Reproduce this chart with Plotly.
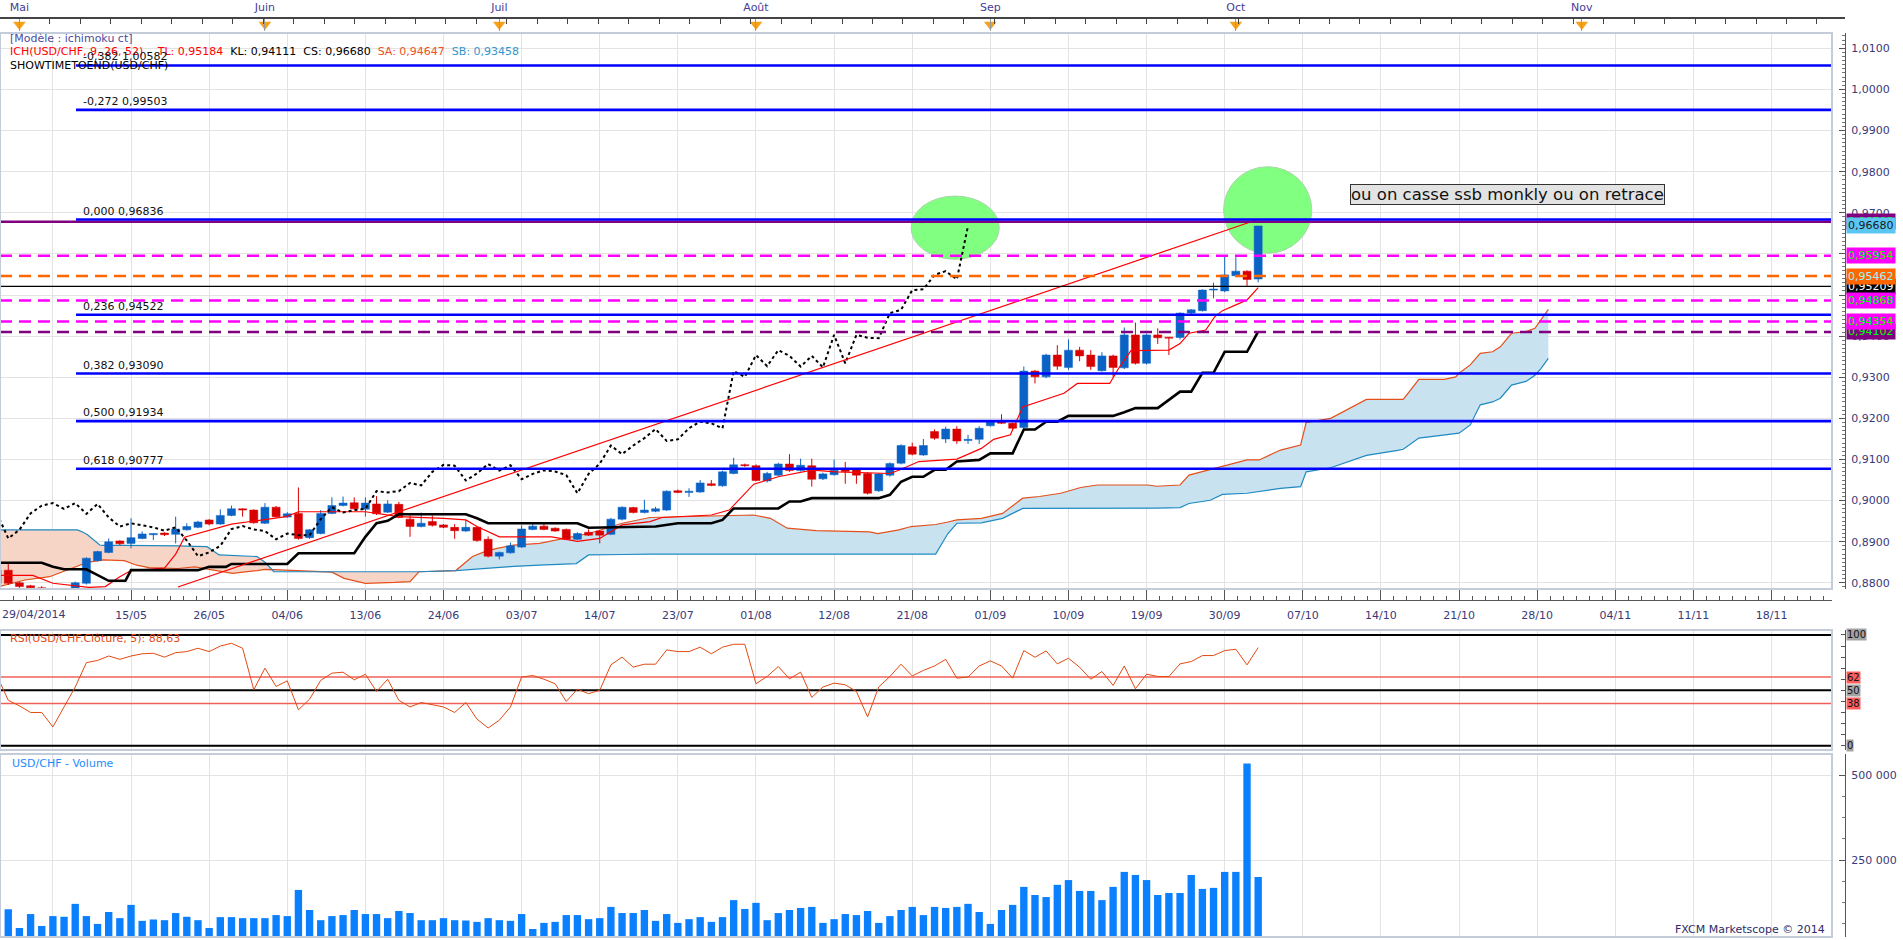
import plotly.graph_objects as go

# ------------------------------------------------------------------ DATA
# bar index: trading-day index, 15/05/2014 = 0 (first bar 29/04/2014 = -12)
bar_idx = list(range(-12, 102))

opens = [0.8799, 0.8831, 0.8800, 0.8793, 0.8788, 0.8770, 0.8762, 0.8772, 0.8799, 0.8854, 0.8874, 0.8902,
         0.8896, 0.8908, 0.8917, 0.8921, 0.8918, 0.8929, 0.8935, 0.8953, 0.8943, 0.8964,
         0.8980, 0.8977, 0.8945, 0.8984, 0.8960, 0.8969, 0.8910, 0.8920, 0.8969, 0.8988,
         0.8995, 0.8979, 0.8992, 0.8972, 0.8991, 0.8955, 0.8937, 0.8949, 0.8941, 0.8935,
         0.8926, 0.8935, 0.8906, 0.8865, 0.8873, 0.8887, 0.8930, 0.8938, 0.8933, 0.8930,
         0.8906, 0.8923, 0.8926, 0.8918, 0.8955, 0.8983, 0.8971, 0.8974, 0.8977, 0.9024,
         0.9020, 0.9021, 0.9041, 0.9036, 0.9066, 0.9087, 0.9085, 0.9048, 0.9062, 0.9089,
         0.9073, 0.9085, 0.9053, 0.9063, 0.9075, 0.9075, 0.9066, 0.9024, 0.9062, 0.9091,
         0.9131, 0.9111, 0.9168, 0.9150, 0.9174, 0.9146, 0.9149, 0.9182, 0.9192, 0.9188,
         0.9178, 0.9315, 0.9301, 0.9354, 0.9324, 0.9366, 0.9354, 0.9316, 0.9352, 0.9323,
         0.9403, 0.9334, 0.9403, 0.9397, 0.9397, 0.9456, 0.9462, 0.9512, 0.9510, 0.9547,
         0.9558, 0.9539]
highs = [0.8835, 0.8846, 0.8803, 0.8795, 0.8792, 0.8775, 0.8778, 0.8803, 0.8862, 0.8878, 0.8908, 0.8904,
         0.8957, 0.8925, 0.8920, 0.8923, 0.8961, 0.8945, 0.8951, 0.8955, 0.8979, 0.8988,
         0.8981, 0.8979, 0.8994, 0.8987, 0.8972, 0.9032, 0.8931, 0.8977, 0.9008, 0.9010,
         0.9008, 0.9008, 0.9011, 0.9001, 0.8997, 0.8964, 0.8971, 0.8964, 0.8943, 0.8943,
         0.8953, 0.8937, 0.8913, 0.8876, 0.8898, 0.8940, 0.8943, 0.8945, 0.8935, 0.8932,
         0.8923, 0.8930, 0.8928, 0.8958, 0.8986, 0.8985, 0.9002, 0.8985, 0.9025, 0.9027,
         0.9030, 0.9050, 0.9050, 0.9073, 0.9104, 0.9090, 0.9088, 0.9070, 0.9092, 0.9113,
         0.9102, 0.9102, 0.9068, 0.9100, 0.9094, 0.9077, 0.9069, 0.9067, 0.9093, 0.9137,
         0.9141, 0.9150, 0.9173, 0.9180, 0.9181, 0.9160, 0.9181, 0.9195, 0.9210, 0.9190,
         0.9326, 0.9318, 0.9357, 0.9378, 0.9392, 0.9374, 0.9366, 0.9361, 0.9355, 0.9421,
         0.9433, 0.9406, 0.9419, 0.9398, 0.9458, 0.9466, 0.9514, 0.9530, 0.9593, 0.9592,
         0.9560, 0.9668]
lows = [0.8795, 0.8795, 0.8788, 0.8785, 0.8765, 0.8755, 0.8758, 0.8768, 0.8796, 0.8852, 0.8872, 0.8892,
        0.8884, 0.8906, 0.8904, 0.8914, 0.8896, 0.8927, 0.8933, 0.8940, 0.8941, 0.8962,
        0.8961, 0.8944, 0.8943, 0.8958, 0.8958, 0.8905, 0.8907, 0.8918, 0.8967, 0.8986,
        0.8978, 0.8961, 0.8965, 0.8970, 0.8957, 0.8912, 0.8935, 0.8937, 0.8933, 0.8907,
        0.8924, 0.8900, 0.8862, 0.8857, 0.8871, 0.8885, 0.8928, 0.8928, 0.8924, 0.8904,
        0.8904, 0.8914, 0.8896, 0.8916, 0.8952, 0.8969, 0.8969, 0.8972, 0.8975, 0.9018,
        0.9009, 0.9019, 0.9035, 0.9034, 0.9064, 0.9082, 0.9047, 0.9044, 0.9060, 0.9070,
        0.9071, 0.9034, 0.9050, 0.9061, 0.9041, 0.9041, 0.9015, 0.9021, 0.9058, 0.9088,
        0.9110, 0.9109, 0.9148, 0.9140, 0.9138, 0.9138, 0.9138, 0.9180, 0.9186, 0.9174,
        0.9175, 0.9285, 0.9298, 0.9318, 0.9318, 0.9339, 0.9318, 0.9314, 0.9301, 0.9320,
        0.9331, 0.9331, 0.9381, 0.9354, 0.9392, 0.9452, 0.9460, 0.9492, 0.9507, 0.9545,
        0.9520, 0.9531]
closes = [0.8831, 0.8799, 0.8791, 0.8788, 0.8770, 0.8762, 0.8772, 0.8800, 0.8860, 0.8876, 0.8900, 0.8895,
          0.8910, 0.8919, 0.8920, 0.8917, 0.8931, 0.8937, 0.8948, 0.8943, 0.8964, 0.8980,
          0.8977, 0.8946, 0.8984, 0.8961, 0.8968, 0.8908, 0.8929, 0.8969, 0.8988, 0.8994,
          0.8980, 0.8994, 0.8968, 0.8992, 0.8959, 0.8937, 0.8945, 0.8940, 0.8935, 0.8927,
          0.8935, 0.8903, 0.8865, 0.8874, 0.8890, 0.8931, 0.8938, 0.8930, 0.8926, 0.8906,
          0.8920, 0.8916, 0.8916, 0.8955, 0.8984, 0.8971, 0.8977, 0.8980, 0.9023, 0.9020,
          0.9023, 0.9043, 0.9037, 0.9070, 0.9087, 0.9085, 0.9049, 0.9066, 0.9089, 0.9073,
          0.9086, 0.9052, 0.9065, 0.9074, 0.9071, 0.9062, 0.9018, 0.9065, 0.9090, 0.9134,
          0.9113, 0.9134, 0.9152, 0.9174, 0.9145, 0.9149, 0.9176, 0.9192, 0.9188, 0.9176,
          0.9315, 0.9301, 0.9354, 0.9327, 0.9366, 0.9352, 0.9326, 0.9352, 0.9324, 0.9403,
          0.9334, 0.9403, 0.9396, 0.9395, 0.9456, 0.9464, 0.9512, 0.9514, 0.9549, 0.9558,
          0.9538, 0.9668]

volumes = [76000, 105000, 50000, 91000, 56000, 85000, 83000, 121000, 85000, 62000,
           97000, 79000, 118000, 71000, 75000, 73000, 94000, 83000, 73000, 50000,
           82000, 82000, 79000, 79000, 79000, 88000, 85000, 162000, 103000, 73000,
           85000, 88000, 103000, 91000, 91000, 79000, 100000, 94000, 73000, 73000,
           79000, 73000, 72000, 68000, 79000, 73000, 71000, 91000, 47000, 65000,
           68000, 88000, 88000, 76000, 79000, 112000, 94000, 94000, 103000, 71000,
           91000, 65000, 76000, 82000, 68000, 82000, 132000, 106000, 124000, 73000,
           94000, 103000, 109000, 112000, 65000, 76000, 91000, 88000, 100000, 65000,
           85000, 103000, 112000, 88000, 112000, 109000, 112000, 121000, 97000, 62000,
           103000, 118000, 171000, 147000, 141000, 177000, 191000, 159000, 159000, 132000,
           171000, 215000, 206000, 191000, 147000, 153000, 153000, 206000, 165000, 168000,
           215000, 215000, 534000, 200000]

rsi_values = [63, 41, 36, 30, 30, 17, 35, 53, 75, 77, 81, 78,
              81, 83, 83.5, 80, 84, 85, 88, 85, 90, 92.5,
              88, 50.5, 70, 53.5, 58.6, 32.4, 42, 59, 65.5, 66.4,
              59.5, 64.5, 49, 60, 41, 35, 39, 37, 35, 30,
              39, 24, 16, 23, 35, 62, 63.4, 60, 56, 40,
              51, 47, 50, 73, 80, 71, 73.6, 73.6, 86.5, 85,
              85, 89, 83, 89, 91.6, 91.6, 56, 62.5, 71.5, 60.4,
              66.4, 43.6, 53, 56.5, 55, 49, 26, 53, 62.5, 73.6,
              63, 68, 72, 78, 61, 62, 72, 76.6, 72, 61,
              85.9, 79.9, 85.6, 73.9, 79, 70.9, 60, 67, 54.4, 72,
              51.4, 64.6, 62.5, 62.5, 73.9, 76, 81.4, 81.4, 85.9, 87.1,
              73, 88.6]

tenkan_x = [-12, -8.8, -7, -3.8, -2.3, -1, 0, 3, 4, 4.8, 9, 13.9, 15, 21, 24, 28, 30, 31, 33, 37.7,
            40, 42, 44, 46.5, 47.6, 52, 53.6, 55.8, 58, 61, 63.2, 68, 68.8, 70.6, 74, 76.2, 77.3, 78.8,
            79.9, 83.6, 84.8, 87.7, 88.5, 89.6, 93, 94, 94.8, 96.3, 97.1, 97.8, 99, 100, 101]
tenkan_y = [0.8818, 0.8818, 0.8799, 0.8789, 0.8791, 0.8815, 0.8830, 0.8836, 0.8870, 0.8911,
            0.8943, 0.8961, 0.8973, 0.8973, 0.8961, 0.8957, 0.8953, 0.8937, 0.8912, 0.8912,
            0.8901, 0.8908, 0.8941, 0.8949, 0.8959, 0.8965, 0.8977, 0.9040, 0.9058, 0.9074,
            0.9070, 0.9066, 0.9074, 0.9095, 0.9101, 0.9127, 0.9149, 0.9160, 0.9228, 0.9261,
            0.9285, 0.9285, 0.9322, 0.9365, 0.9366, 0.9382, 0.9407, 0.9415, 0.9447, 0.9462,
            0.9476, 0.9488, 0.9518]

kijun_x = [-12, -8, -7, -6, -4, -3, -2, -0.5, 0, 6, 7, 8.5, 9, 14, 15, 20, 21, 22, 23, 24,
           30, 31, 32, 40, 41, 47, 48, 49, 52, 53, 54, 58, 59, 60, 61, 67, 68, 69, 70, 71,
           72, 73, 74, 76, 77, 79, 80, 81, 82, 83, 84, 88, 89, 90, 92, 93, 94, 95, 96, 97,
           98, 100, 101]
kijun_y = [0.8849, 0.8849, 0.8839, 0.8833, 0.8833, 0.8819, 0.8805, 0.8805, 0.8831, 0.8831,
           0.8839, 0.8839, 0.8846, 0.8846, 0.8872, 0.8872, 0.8912, 0.8945, 0.8951, 0.8967,
           0.8967, 0.8957, 0.8945, 0.8945, 0.8934, 0.8937, 0.8941, 0.8945, 0.8945, 0.8953,
           0.8981, 0.8981, 0.8998, 0.8998, 0.9006, 0.9006, 0.9014, 0.9046, 0.9058, 0.9058,
           0.9075, 0.9075, 0.9095, 0.9099, 0.9115, 0.9115, 0.9173, 0.9173, 0.9192, 0.9192,
           0.9206, 0.9206, 0.9215, 0.9225, 0.9225, 0.9245, 0.9265, 0.9265, 0.9311, 0.9311,
           0.9362, 0.9362, 0.9411]

cloud_x = [-12, -9.5, -7.3, -6.2, -4.8, -4.3, -3.9, -2.8, -2.5, -0.6,
           0.5, 1.6, 4.2, 5.7, 6.8, 7.9, 9.1, 11.3, 12.0, 12.8,
           13.5, 18, 19.1, 21, 23.6, 25, 25.8, 29.1, 30.6, 31.7,
           32.8, 34.3, 36.6, 39.9, 41, 42, 44, 46.5, 51, 55.8,
           57.3, 58.8, 61.4, 66.2, 66.9, 68.8, 69.9, 71.8, 72.1, 73.2,
           74, 76.2, 78.1, 79.9, 81.4, 83.3, 85.1, 86.6, 91.1, 91.9,
           94, 94.8, 96.7, 97.8, 100, 101.1, 103, 104.8, 105.3, 107.5,
           110.7, 113.5, 114, 115.4, 117.7, 118.7, 119, 120, 120.9, 122,
           122.7, 123.7, 125, 125.8, 126.3, 127]
senkou_a = [0.8790, 0.8807, 0.8815, 0.8827, 0.8842, 0.8846, 0.8850, 0.8856, 0.8856, 0.8854,
            0.8843, 0.8837, 0.8835, 0.8839, 0.8834, 0.8828, 0.8823, 0.8830, 0.8833, 0.8832,
            0.8831, 0.8826, 0.8811, 0.8799, 0.8801, 0.8803, 0.8827, 0.8830, 0.8864, 0.8876,
            0.8884, 0.8892, 0.8896, 0.8913, 0.8920, 0.8928, 0.8945, 0.8959, 0.8962, 0.8965,
            0.8957, 0.8933, 0.8927, 0.8924, 0.8920, 0.8929, 0.8937, 0.8941, 0.8942, 0.8948,
            0.8953, 0.8957, 0.8969, 0.9006, 0.9010, 0.9018, 0.9032, 0.9038, 0.9038, 0.9035,
            0.9038, 0.9062, 0.9075, 0.9084, 0.9099, 0.9099, 0.9123, 0.9135, 0.9190, 0.9200,
            0.9246, 0.9246, 0.9246, 0.9295, 0.9295, 0.9301, 0.9310, 0.9330, 0.9358, 0.9362,
            0.9374, 0.9407, 0.9411, 0.9419, 0.9439, 0.9465]
senkou_b = [0.8929, 0.8929, 0.8929, 0.8929, 0.8929, 0.8923, 0.8917, 0.8892, 0.8891, 0.8891,
            0.8891, 0.8890, 0.8890, 0.8889, 0.8888, 0.8868, 0.8867, 0.8864, 0.8850, 0.8827,
            0.8827, 0.8827, 0.8827, 0.8827, 0.8827, 0.8827, 0.8827, 0.8830, 0.8833, 0.8835,
            0.8837, 0.8840, 0.8843, 0.8847, 0.8868, 0.8868, 0.8869, 0.8870, 0.8870, 0.8870,
            0.8870, 0.8870, 0.8870, 0.8870, 0.8870, 0.8870, 0.8870, 0.8870, 0.8870, 0.8920,
            0.8945, 0.8946, 0.8957, 0.8981, 0.8981, 0.8981, 0.8981, 0.8981, 0.8981, 0.8982,
            0.8983, 0.8993, 0.9001, 0.9015, 0.9018, 0.9022, 0.9030, 0.9034, 0.9070, 0.9080,
            0.9110, 0.9122, 0.9125, 0.9152, 0.9160, 0.9164, 0.9164, 0.9184, 0.9233, 0.9240,
            0.9249, 0.9281, 0.9290, 0.9305, 0.9320, 0.9346]
chikou_shift = 26

date_tick_idx = list(range(0, 148, 7))
date_tick_labels = ["15/05", "26/05", "04/06", "13/06", "24/06", "03/07", "14/07", "23/07",
                    "01/08", "12/08", "21/08", "01/09", "10/09", "19/09", "30/09", "07/10",
                    "14/10", "21/10", "28/10", "04/11", "11/11", "18/11"]
first_date_label = "29/04/2014"
grid_idx = list(range(-7, 148, 7))
month_idx = [-10, 12, 33, 56, 77, 99, 130]
month_labels = ["Mai", "Juin", "Juil", "Août", "Sep", "Oct", "Nov"]

fib_ratios = [-0.382, -0.272, 0.000, 0.236, 0.382, 0.500, 0.618]
fib_values = [1.00582, 0.99503, 0.96836, 0.94522, 0.93090, 0.91934, 0.90777]
fib_anchor_idx = -4.93

level_values = [0.96783, 0.95954, 0.95462, 0.95209, 0.94868, 0.94354, 0.94102]
close_marker = 0.96680

trend_x = [4.2, 100.9]
trend_y = [0.8790, 0.9683]

rsi_levels = [100, 62, 50, 38, 0]
vol_ticks = [250000, 500000]

ich_name = "ICH(USD/CHF, 9, 26, 52)"
tl_val, kl_val, cs_val, sa_val, sb_val = 0.95184, 0.94111, 0.96680, 0.94647, 0.93458
rsi_last = 88.63
note_text = "ou on casse ssb monkly ou on retrace"

# ------------------------------------------------------------------ STYLE / LAYOUT
W, H = 1903, 940
PLOT_W = 1845
X_DOM = 1832 / PLOT_W
BAR_PX = 11.16
X_MIN = -11.74
X_MAX = X_MIN + 1832 / BAR_PX
X4_MAX = X_MIN + PLOT_W / BAR_PX
GRID = "#e3e3e3"
FONT = "DejaVu Sans"
NBSP = "\u00a0"


def py(px):
    return 1 - px / H


def fr(v, n):
    return f"{v:.{n}f}".replace(".", ",")


level_styles = [
    dict(color="#800080", dash="solid", width=2.5, box="#800080", txt="#00ff00"),
    dict(color="#ff00ff", dash="12px,7px", width=2.5, box="#ff00ff", txt="#00ff00"),
    dict(color="#ff6600", dash="12px,7px", width=2.5, box="#ff6600", txt="#8ff8ff"),
    dict(color="#000000", dash="solid", width=1.3, box="#000000", txt="#ffffff"),
    dict(color="#ff00ff", dash="12px,7px", width=2.5, box="#ff00ff", txt="#00ff00"),
    dict(color="#ff00ff", dash="12px,7px", width=2.5, box="#ff00ff", txt="#00ff00"),
    dict(color="#800080", dash="12px,7px", width=2.5, box="#800080", txt="#00ff00"),
]
box_draw_order = [0, 1, 3, 2, 4, 6, 5]

fig = go.Figure()

# ---- Ichimoku cloud (fill only where A>B : blue, B>A : salmon)
lo = [min(a, b) for a, b in zip(senkou_a, senkou_b)]
hid = dict(mode="lines", line=dict(width=0), hoverinfo="skip", showlegend=False)
fig.add_trace(go.Scatter(x=cloud_x, y=lo, **hid))
fig.add_trace(go.Scatter(x=cloud_x, y=senkou_a, fill="tonexty", fillcolor="#c9e2f0", **hid))
fig.add_trace(go.Scatter(x=cloud_x, y=lo, **hid))
fig.add_trace(go.Scatter(x=cloud_x, y=senkou_b, fill="tonexty", fillcolor="#f6d5c7", **hid))
fig.add_trace(go.Scatter(x=cloud_x, y=senkou_a, mode="lines", line=dict(color="#e4501c", width=1.2),
                         hoverinfo="skip", showlegend=False))
fig.add_trace(go.Scatter(x=cloud_x, y=senkou_b, mode="lines", line=dict(color="#1f8ac2", width=1.2),
                         hoverinfo="skip", showlegend=False))

# ---- candles (wicks + bodies as filled polygons so they sit above the cloud)
HALF = 0.36
for up, color in ((True, "#0a63c4"), (False, "#d80000")):
    wx, wy, bx, by = [], [], [], []
    for i, o, h, l, c in zip(bar_idx, opens, highs, lows, closes):
        if (c >= o) != up:
            continue
        wx += [i, i, None]
        wy += [l, h, None]
        b0 = min(o, c)
        b1 = max(max(o, c), b0 + 0.00025)
        bx += [i - HALF, i + HALF, i + HALF, i - HALF, i - HALF, None]
        by += [b0, b0, b1, b1, b0, None]
    fig.add_trace(go.Scatter(x=wx, y=wy, mode="lines", line=dict(color=color, width=1),
                             hoverinfo="skip", showlegend=False))
    fig.add_trace(go.Scatter(x=bx, y=by, mode="lines", fill="toself", fillcolor=color,
                             line=dict(color=color, width=0.5), hoverinfo="skip", showlegend=False))

# ---- tenkan, kijun, chikou
fig.add_trace(go.Scatter(x=tenkan_x, y=tenkan_y, mode="lines", line=dict(color="#ff0000", width=1.2),
                         hoverinfo="skip", showlegend=False))
fig.add_trace(go.Scatter(x=kijun_x, y=kijun_y, mode="lines", line=dict(color="#000000", width=2.6),
                         hoverinfo="skip", showlegend=False))
fig.add_trace(go.Scatter(x=[i - chikou_shift for i in bar_idx], y=closes, mode="lines",
                         line=dict(color="#000000", width=2, dash="dot"),
                         hoverinfo="skip", showlegend=False))

# ---- trend line
fig.add_trace(go.Scatter(x=trend_x, y=trend_y, mode="lines", line=dict(color="#ff0000", width=1.2),
                         hoverinfo="skip", showlegend=False))

# ---- horizontal levels
for v, st in zip(level_values, level_styles):
    fig.add_trace(go.Scatter(x=[X_MIN, X_MAX], y=[v, v], mode="lines",
                             line=dict(color=st["color"], width=st["width"], dash=st["dash"]),
                             hoverinfo="skip", showlegend=False))

# ---- fibonacci lines
for v in fib_values:
    fig.add_trace(go.Scatter(x=[fib_anchor_idx, X_MAX], y=[v, v], mode="lines",
                             line=dict(color="#0000ff", width=2.6), hoverinfo="skip", showlegend=False))

# ---- RSI panel
for lv in rsi_levels:
    red = lv in (62, 38)
    fig.add_trace(go.Scatter(x=[X_MIN, X_MAX], y=[lv, lv], mode="lines", xaxis="x2", yaxis="y2",
                             line=dict(color="#f06058" if red else "#000000", width=1.5 if red else 2),
                             hoverinfo="skip", showlegend=False))
fig.add_trace(go.Scatter(x=bar_idx, y=rsi_values, mode="lines", xaxis="x2", yaxis="y2",
                         line=dict(color="#e24a12", width=1), hoverinfo="skip", showlegend=False))

# ---- volume panel
fig.add_trace(go.Bar(x=bar_idx, y=volumes, width=0.66, xaxis="x3", yaxis="y3",
                     marker=dict(color="#0a80ff", line=dict(width=0)), hoverinfo="skip",
                     showlegend=False))

# ---- header month markers
fig.add_trace(go.Scatter(x=month_idx, y=[24.5] * len(month_idx), mode="markers", xaxis="x4", yaxis="y5",
                         marker=dict(symbol="triangle-down", size=11, color="#f7a21b", line=dict(width=0)),
                         cliponaxis=False, hoverinfo="skip", showlegend=False))
# invisible carrier for date axis
fig.add_trace(go.Scatter(x=date_tick_idx, y=[None] * len(date_tick_idx), xaxis="x5", yaxis="y",
                         mode="markers", hoverinfo="skip", showlegend=False))

common_x = dict(domain=[0, X_DOM], range=[X_MIN, X_MAX], tickmode="array", tickvals=grid_idx,
                showticklabels=False, ticks="", showgrid=True, gridcolor=GRID, gridwidth=1,
                zeroline=False, showline=False, fixedrange=True)
axis_font = dict(family=FONT, size=11, color="#3a3a78")

fig.update_layout(
    width=W, height=H, margin=dict(l=0, r=W - PLOT_W, t=0, b=0),
    paper_bgcolor="white", plot_bgcolor="white", separators=", ", showlegend=False,
    barmode="overlay", font=dict(family=FONT, size=11, color="#222222"),
    xaxis=dict(anchor="y", **common_x),
    xaxis2=dict(anchor="y2", **common_x),
    xaxis3=dict(anchor="y3", **common_x),
    xaxis4=dict(domain=[0, 1], range=[X_MIN, X4_MAX], anchor="y5", side="top", tickmode="array",
                tickvals=month_idx, ticktext=month_labels, ticks="inside", ticklen=12, tickcolor="#9a9a9a",
                showline=True, linecolor="#444444", linewidth=1.5, showgrid=False, zeroline=False,
                tickfont=dict(family=FONT, size=11, color="#463c96"), ticklabelstandoff=2,
                minor=dict(tickmode="linear", tick0=-10, dtick=2.73, ticks="inside", ticklen=5,
                           tickcolor="#444444"), fixedrange=True),
    xaxis5=dict(overlaying="x", anchor="free", position=py(600), side="bottom", range=[X_MIN, X_MAX],
                tickmode="array", tickvals=date_tick_idx, ticktext=date_tick_labels, ticks="inside",
                ticklen=11, tickcolor="#555555", showline=True, linecolor="#555555", linewidth=1,
                showgrid=False, zeroline=False, tickfont=axis_font, ticklabelstandoff=5,
                minor=dict(tickmode="linear", tick0=0, dtick=7 / 6, ticks="inside", ticklen=4,
                           tickcolor="#555555"), fixedrange=True),
    yaxis=dict(domain=[py(589), py(33)], range=[0.87851, 1.01372], anchor="free", position=1.0,
               side="right", tickmode="linear", tick0=0.88, dtick=0.01, tickformat=".4f",
               ticks="inside", ticklen=6, tickcolor="#555555", showline=True, linecolor="#555555",
               showgrid=True, gridcolor=GRID, zeroline=False, tickfont=axis_font, ticklabelstandoff=3,
               minor=dict(dtick=0.001, ticks="inside", ticklen=3, tickcolor="#777777"), fixedrange=True),
    yaxis2=dict(domain=[py(750), py(630)], range=[-3.9, 104.5], anchor="free", position=1.0,
                side="right", tickmode="linear", tick0=0, dtick=10, showticklabels=False,
                ticks="inside", ticklen=4, tickcolor="#555555", showline=True, linecolor="#555555",
                showgrid=False, zeroline=False, fixedrange=True),
    yaxis3=dict(domain=[py(937), py(754)], range=[23500, 561800], anchor="free", position=1.0,
                side="right", tickmode="array", tickvals=vol_ticks,
                ticktext=[f"{v:,}".replace(",", " ") for v in vol_ticks],
                ticks="inside", ticklen=6, tickcolor="#555555", showline=True, linecolor="#555555",
                showgrid=True, gridcolor=GRID, zeroline=False, tickfont=axis_font, ticklabelstandoff=3,
                minor=dict(tickmode="linear", tick0=0, dtick=62500, ticks="inside", ticklen=3,
                           tickcolor="#777777"), fixedrange=True),
    yaxis5=dict(domain=[py(31), py(19)], range=[31, 19], visible=False, fixedrange=True),
)

# ---- shapes: panel frames + green zones
shapes = []
for top, bot in ((33, 589), (630, 750), (754, 937)):
    shapes.append(dict(type="rect", xref="paper", yref="paper", x0=0, x1=X_DOM, y0=py(bot), y1=py(top),
                       line=dict(color="#c3ccd8", width=2), fillcolor="rgba(0,0,0,0)", layer="above"))
shapes.append(dict(type="circle", xref="x", yref="y", x0=69.9, x1=77.8, y0=0.95869, y1=0.97407,
                   fillcolor="#80ff80", line=dict(color="#a8d6a8", width=1), layer="between"))
shapes.append(dict(type="circle", xref="x", yref="y", x0=97.9, x1=105.8, y0=0.96015, y1=0.98121,
                   fillcolor="#80ff80", line=dict(color="#a8d6a8", width=1), layer="between"))
fig.update_layout(shapes=shapes)

# ---- annotations
ann = []


def txt(text, x, y, xref="paper", yref="paper", xanchor="left", yanchor="middle", size=11,
        color="#000000", **kw):
    d = dict(text=text, x=x, y=y, xref=xref, yref=yref, xanchor=xanchor, yanchor=yanchor,
             showarrow=False, font=dict(family=FONT, size=size, color=color))
    d.update(kw)
    ann.append(d)


X0 = 8 / PLOT_W
txt("[Modèle : ichimoku ct]", X0, py(38.5), color="#4b4b9e")
s = NBSP * 2
txt(f'<span style="color:#ff0000">{ich_name} -{s}TL: {fr(tl_val, 5)}</span>{s}'
    f'<span style="color:#000000">KL: {fr(kl_val, 5)}{s}CS: {fr(cs_val, 5)}</span>{s}'
    f'<span style="color:#ee5222">SA: {fr(sa_val, 5)}</span>{s}'
    f'<span style="color:#3396cc">SB: {fr(sb_val, 5)}</span>', X0, py(52))
txt("SHOWTIMETOEND(USD/CHF)", X0, py(65.3))

for r, v in zip(fib_ratios, fib_values):
    txt(f"{fr(r, 3)} {fr(v, 5)}", fib_anchor_idx, v, xref="x", yref="y", yanchor="bottom",
        xshift=5, yshift=0, color="#111111")

# right-hand value boxes
for k in box_draw_order[:1]:
    st = level_styles[k]
    txt(fr(level_values[k], 5), 1.0, level_values[k], yref="y", xshift=1, bgcolor=st["box"],
        borderpad=1, color=st["txt"])
txt(fr(close_marker, 5), 1.0, close_marker, yref="y", xshift=1, bgcolor="#5cc6f2", borderpad=1,
    color="#1a1a1a")
for k in box_draw_order[1:]:
    st = level_styles[k]
    txt(fr(level_values[k], 5), 1.0, level_values[k], yref="y", xshift=1, bgcolor=st["box"],
        borderpad=1, color=st["txt"])

# note box
txt(note_text, 123.3, 0.97444, xref="x", yref="y", xanchor="center", size=16.5, color="#111111",
    bgcolor="#e3e3e3", bordercolor="#333333", borderwidth=1, borderpad=0)

# date axis first label
txt(first_date_label, 0, py(614), color="#3a3a78")

# RSI
txt(f"RSI(USD/CHF.Clôture, 5): {fr(rsi_last, 2)}", 7.7 / PLOT_W, py(638), color="#e24a12")
for lv in rsi_levels:
    red = lv in (62, 38)
    txt(str(lv), 1.0, lv, yref="y2", xshift=1, bgcolor="#ff5c5c" if red else "#a3a3a3",
        borderpad=0, size=10, color="#111111")

# volume
txt("USD/CHF - Volume", 9.7 / PLOT_W, py(763), color="#1e8cff")
txt("FXCM Marketscope © 2014", 1827 / PLOT_W, py(929), xanchor="right", color="#2c2c6c")

fig.update_layout(annotations=ann)

fig.write_html("out.html", config={"displayModeBar": False},
               post_script="document.body.style.margin='0';document.body.style.overflow='hidden';")
